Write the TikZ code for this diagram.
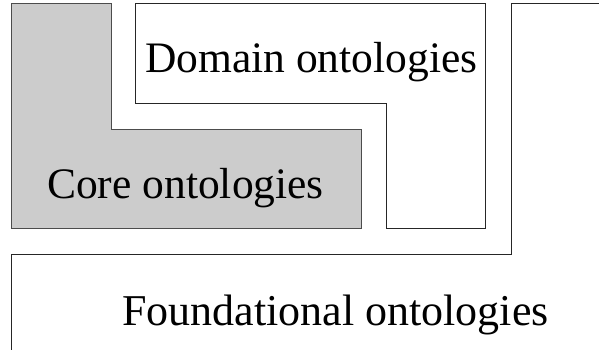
\documentclass[tikz,border=0pt]{standalone}
\usepackage{fontspec}
\setmainfont{Liberation Serif}
\tikzset{
  layer/.style={draw=black!85, line width=1pt, line join=miter},
  corelayer/.style={layer, draw=black!70, fill=black!20},
  label/.style={anchor=base west, inner sep=0pt, font=\fontsize{43.5}{50}\selectfont},
}
\begin{document}
\begin{tikzpicture}[x=1pt,y=-1pt]
\useasboundingbox (0,0) rectangle (599,350);
% Core ontologies
\draw[corelayer] (11,4) -- (111,4) -- (111,129) -- (361,129) -- (361,228) -- (11,228) -- cycle;
% Domain ontologies
\draw[layer] (135,4) -- (485,4) -- (485,228) -- (386,228) -- (386,104) -- (135,104) -- cycle;
% Foundational ontologies
\draw[layer] (605,4) -- (511,4) -- (511,254) -- (11,254) -- (11,356);
\node[label] (domain) at (145,73) {Domain ontologies};
\node[label] (core) at (47,198) {Core ontologies};
\node[label, font=\fontsize{44}{50}\selectfont] (found) at (122,325) {Foundational ontologies};
\end{tikzpicture}
\end{document}
